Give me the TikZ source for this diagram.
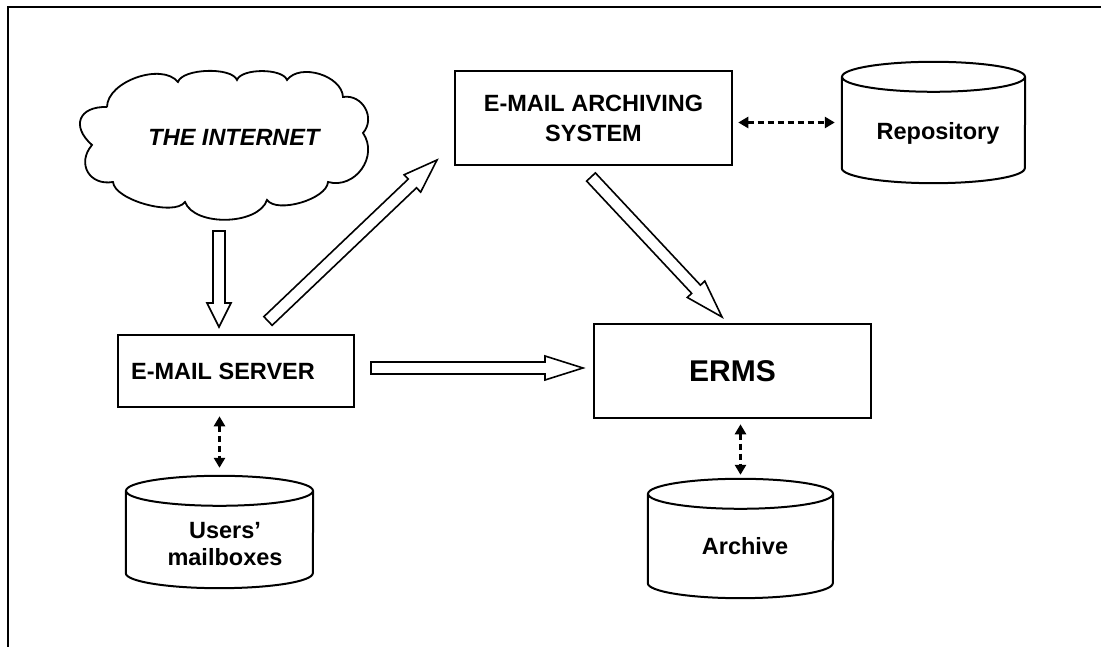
\documentclass[tikz,border=0pt]{standalone}
\usepackage{fontspec}
\setmainfont{Liberation Sans}
\usetikzlibrary{calc,arrows.meta}

% hollow block arrow: tail, tip, head length
\newcommand\hollowarrow[3]{%
  \coordinate (hb) at ($(#2)!#3pt!(#1)$);
  \draw[hollow] ($(#1)!6pt!90:(#2)$) -- ($(hb)!6pt!90:(#2)$) -- ($(hb)!12pt!90:(#2)$)
    -- (#2) -- ($(hb)!12pt!-90:(#2)$) -- ($(hb)!6pt!-90:(#2)$) -- ($(#1)!6pt!-90:(#2)$) -- cycle;
}
% storage drum: name, x, y, width, height
\newcommand\drum[5]{%
  \node[inner sep=0pt, minimum width=#4, minimum height=#5] (#1) at (#2,#3) {};
  \draw[drumline] ($(#1.north west)+(0,-15)$) -- ($(#1.south west)+(0,15)$)
    arc[start angle=180, end angle=360, x radius=#4/2, y radius=15]
    -- ($(#1.north east)+(0,-15)$);
  \draw[drumline] ($(#1.north)+(0,-15)$) ellipse[x radius=#4/2, y radius=15];
}

\begin{document}
\begin{tikzpicture}[x=1pt, y=1pt,
  box/.style={draw, line width=2.6pt, inner sep=0pt, align=center,
    font=\fontsize{23.5}{30}\selectfont\bfseries},
  lbl/.style={inner sep=0pt, align=center, font=\fontsize{23.5}{27}\selectfont\bfseries},
  hollow/.style={draw, line width=1.6pt, fill=white, line join=miter},
  link/.style={line width=3pt, dash pattern=on 6pt off 4pt,
    {Triangle[length=10pt,width=11pt]}-{Triangle[length=10pt,width=11pt]}},
  drumline/.style={line width=2pt},
  cloudline/.style={line width=1.8pt},
]
\useasboundingbox (0,0) rectangle (1101,647);

% frame
\draw[line width=2.6pt] (8,0) -- (8,640) -- (1101,640);

% the internet cloud
\draw[cloudline] (107,540)
  to[bend right=70, looseness=1.78] (92,502)
  to[bend right=70, looseness=1.45] (113,465)
  to[bend right=70, looseness=0.62] (185,445)
  to[bend right=70, looseness=0.83] (267,447)
  to[bend right=70, looseness=0.69] (328,465)
  to[bend right=70, looseness=1.2] (363,514)
  to[bend right=70, looseness=1.23] (343,550)
  to[bend right=70, looseness=0.94] (287,567)
  to[bend right=70, looseness=0.65] (237,567)
  to[bend right=70, looseness=0.62] (178,565)
  to[bend right=70, looseness=0.87] (107,540);
\node[inner sep=0pt, font=\fontsize{23.5}{28}\selectfont\bfseries\itshape] (inet) at (234,510) {THE INTERNET};

% boxes
\node[box, minimum width=277, minimum height=94] (arch) at (593.5,529) {E-MAIL ARCHIVING\\SYSTEM};
\node[box, minimum width=236, minimum height=72] (server) at (236,276) {};
\node[lbl] (servertxt) at (223,276) {E-MAIL SERVER};
\node[box, minimum width=277, minimum height=94, font=\fontsize{30}{36}\selectfont\bfseries] (erms) at (732.5,276) {ERMS};

% storage
\drum{repo}{933.5}{524.5}{183}{121}
\node[lbl] (repotxt) at (938,514) {Repository};
\drum{mbox}{219.5}{115}{187}{112}
\node[lbl] (mboxtxt) at (225,102.5) {Users’\\mailboxes};
\drum{archv}{740.5}{108.5}{185}{119}
\node[lbl] (archvtxt) at (745,101) {Archive};

% message flow
\coordinate (t1) at (219,416); \coordinate (h1) at (219,320);
\coordinate (t2) at (268,326); \coordinate (h2) at (437,487);
\coordinate (t3) at (371,279); \coordinate (h3) at (583,279);
\coordinate (t4) at (591,470); \coordinate (h4) at (722,330);
\hollowarrow{t1}{h1}{24}
\hollowarrow{t2}{h2}{34}
\hollowarrow{t3}{h3}{38}
\hollowarrow{t4}{h4}{38}

% storage access
\draw[link, shorten <=5pt, shorten >=7pt] (repo.west -| arch.east) -- (repo.west);
\draw[link, shorten <=8pt, shorten >=8pt] (mbox.north |- server.south) -- (mbox.north);
\draw[link, shorten <=5pt, shorten >=4pt] (archv.north |- erms.south) -- (archv.north);
\end{tikzpicture}
\end{document}
